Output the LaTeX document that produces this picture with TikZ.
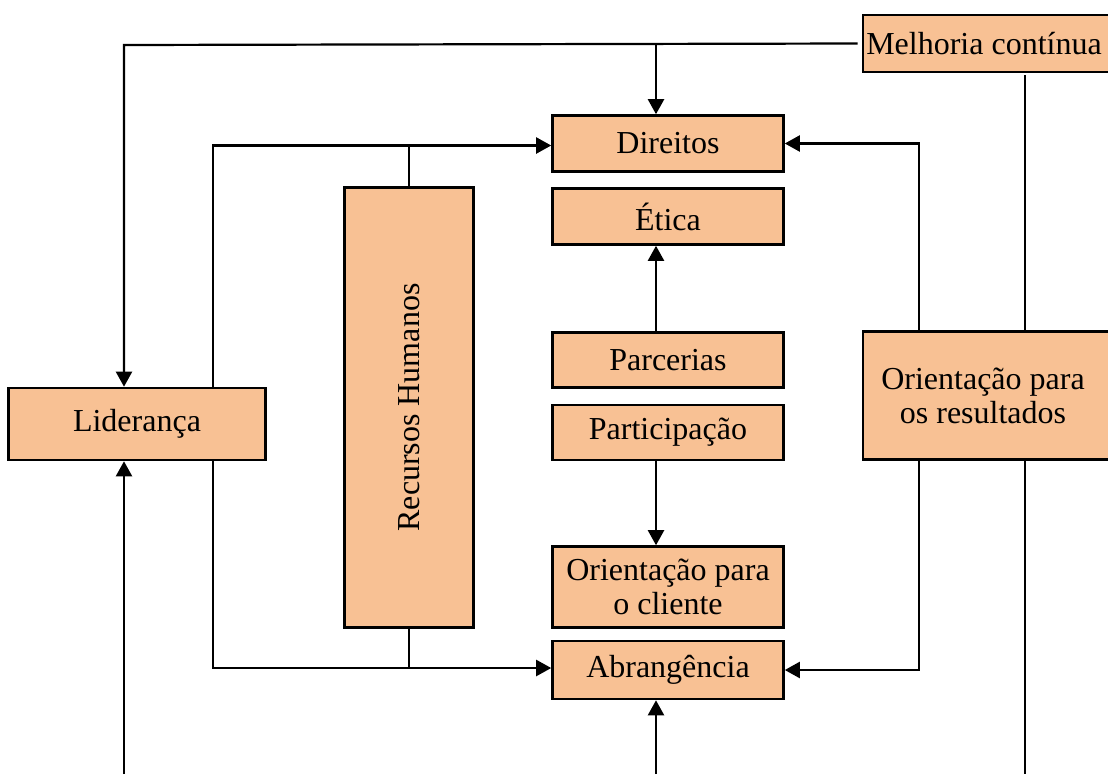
\documentclass[tikz,border=0pt]{standalone}
\usepackage{fontspec}
\setmainfont{Liberation Serif}
\usetikzlibrary{arrows.meta,calc}
\definecolor{boxfill}{RGB}{248,193,148}
\begin{document}
\begin{tikzpicture}[x=1pt,y=-1pt,
  box/.style={draw=black, line width=2.6pt, fill=boxfill, inner sep=0pt, align=center,
    font=\fontsize{32}{37}\selectfont},
  conn/.style={line width=2.2pt},
  arr/.style={conn, -{Triangle[length=15pt,width=16pt]}}]
\clip (0,0) rectangle (1108,774);
\fill[white] (0,0) rectangle (1108,774);
% nodes
\node[box, minimum width=250pt, minimum height=57pt] (mel) at (988,43.5) {\hspace*{-8pt}Melhoria contínua};
\node[box, minimum width=231pt, minimum height=56pt] (dir) at (668,143.5) {Direitos};
\node[box, minimum width=231pt, minimum height=56pt] (eti) at (668,216.5) {Ética};
\node[box, minimum width=129pt, minimum height=440pt] (rh) at (409,407.5) {};
\node[rotate=90, font=\fontsize{32}{37}\selectfont] (rht) at (rh.center) {Recursos Humanos};
\node[box, minimum width=257pt, minimum height=72pt] (lid) at (137,424) {Liderança};
\node[box, minimum width=231pt, minimum height=55pt] (par) at (668,360) {Parcerias};
\node[box, minimum width=231pt, minimum height=55pt] (part) at (668,432.5) {Participação};
\node[box, minimum width=231pt, minimum height=81pt] (cli) at (668,587) {Orientação para\\[-3pt]o cliente};
\node[box, minimum width=250pt, minimum height=128pt] (ores) at (988,395.5) {\hspace*{-10pt}Orientação para\\[-3pt]\hspace*{-10pt}os resultados};
\node[box, minimum width=231pt, minimum height=58pt] (abr) at (668,670) {Abrangência};
% coordinates
\coordinate (cA) at (124,45);
\coordinate (cB) at (656,45);
\coordinate (cTopL) at (213,145.5);
\coordinate (cBotL) at (213,668);
\coordinate (cTopR) at (919,143.5);
\coordinate (cBotR) at (919,670);
\coordinate (cR) at (1025,75);
\coordinate (cRb) at (1025,774);
\coordinate (cMb) at (656,774);
\coordinate (cLb) at (124,774);
% connectors
\draw[arr] ([xshift=-4pt]mel.west) -- (cA) -- (cA |- lid.north);
\draw[arr] (cB) -- (cB |- dir.north);
\draw[conn] (cR) -- (cR |- ores.north);
\draw[conn] (cR |- ores.south) -- (cRb);
\draw[arr] (cTopL |- lid.north) -- (cTopL) -- (cTopL -| dir.west);
\draw[conn] (rh.north) -- (rh.north |- cTopL);
\draw[arr] (cBotL |- lid.south) -- (cBotL) -- (cBotL -| abr.west);
\draw[conn] (rh.south) -- (rh.south |- cBotL);
\draw[arr] (cTopR |- ores.north) -- (cTopR) -- (dir.east);
\draw[arr] (cBotR |- ores.south) -- (cBotR) -- (abr.east);
\draw[arr] (cB |- par.north) -- (cB |- eti.south);
\draw[arr] (cB |- part.south) -- (cB |- cli.north);
\draw[arr] (cMb) -- (cMb |- abr.south);
\draw[arr] (cLb) -- (cLb |- lid.south);
\end{tikzpicture}
\end{document}
